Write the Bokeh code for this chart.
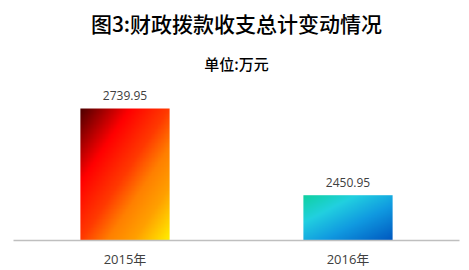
import numpy as np
from bokeh.plotting import figure
from bokeh.models import FactorRange, Range1d
from bokeh.core.properties import value
from bokeh.embed import file_html
from bokeh.resources import INLINE

# ---- data ----
categories = ["2015年", "2016年"]
amounts = [2739.95, 2450.95]
value_labels = ["2739.95", "2450.95"]
title_text = "图3:财政拨款收支总计变动情况"
subtitle_text = "单位:万元"
y_min, y_max = 2300, 2800

# gradient stops (position, colour) per bar
grad_2015 = [(0.0, "#4c0000"), (0.28, "#ff0000"), (0.5, "#ff3a00"),
             (0.65, "#ff8000"), (0.8, "#ffa000"), (1.0, "#fff000")]
grad_2016 = [(0.0, "#10d0a0"), (0.3, "#22d0e0"), (0.62, "#1098e0"),
             (1.0, "#0058c0")]
gradients = [grad_2015, grad_2016]
bar_width = 0.4

# ---- layout (pixels) ----
W, H = 469, 270
frame_bottom_px = 240      # where the category axis sits
value_span_px = 150        # pixels covered by y_min..y_max
# extend the y range so the frame reaches the top of the canvas
y_top = y_min + (y_max - y_min) * frame_bottom_px / value_span_px

heading_font = "Noto Sans CJK SC Medium, Noto Sans CJK SC"


def hex_rgb(h):
    h = h.lstrip("#")
    return [int(h[i:i + 2], 16) for i in (0, 2, 4)]


def gradient_image(stops, w=120, h=160):
    u = np.linspace(0, 1, w)[None, :]
    v = np.linspace(1, 0, h)[:, None]  # row 0 is bottom
    t = (u + v) / 2.0
    pos = [s[0] for s in stops]
    cols = np.array([hex_rgb(s[1]) for s in stops], dtype=float)
    img = np.empty((h, w), dtype=np.uint32)
    view = img.view(dtype=np.uint8).reshape((h, w, 4))
    for c in range(3):
        view[:, :, c] = np.interp(t, pos, cols[:, c]).astype(np.uint8)
    view[:, :, 3] = 255
    return img


p = figure(width=W, height=H,
           x_range=FactorRange(*categories),
           y_range=Range1d(y_min, y_top),
           output_backend="svg", toolbar_location=None,
           min_border_left=13, min_border_right=10,
           min_border_top=0, min_border_bottom=H - frame_bottom_px)
p.outline_line_color = None
p.grid.visible = False
p.yaxis.visible = False
p.background_fill_color = "white"
p.border_fill_color = "white"

for i, (cat, amt, stops) in enumerate(zip(categories, amounts, gradients)):
    p.image_rgba(image=[gradient_image(stops)],
                 x=[i + 0.5 - bar_width / 2], y=[y_min],
                 dw=[bar_width], dh=[amt - y_min])

p.text(x=categories, y=amounts, text=value_labels,
       y_offset=-13, text_align="center", text_baseline="middle",
       text_font=value("Open Sans"), text_font_size="12px",
       text_color="#404040")

ax = p.xaxis[0]
ax.axis_line_color = "#bfbfbf"
ax.axis_line_width = 1.5
ax.major_tick_line_color = None
ax.minor_tick_line_color = None
ax.major_tick_out = 0
ax.major_tick_in = 0
ax.minor_tick_out = 0
ax.minor_tick_in = 0
ax.major_label_standoff = 9
ax.major_label_text_font = "Open Sans, Noto Sans CJK SC"
ax.major_label_text_font_size = "13px"
ax.major_label_text_color = "#404040"

center_x = len(categories) / 2.0
p.text(x=[center_x], y=[y_top], text=[title_text], y_offset=22,
       text_align="center", text_baseline="middle",
       text_font=value(heading_font), text_font_style="normal",
       text_font_size="21px", text_color="#000000")
p.text(x=[center_x], y=[y_top], text=[subtitle_text], y_offset=63,
       text_align="center", text_baseline="middle",
       text_font=value(heading_font), text_font_style="normal",
       text_font_size="15px", text_color="#000000")

open("out.html", "w").write(file_html(p, INLINE))
